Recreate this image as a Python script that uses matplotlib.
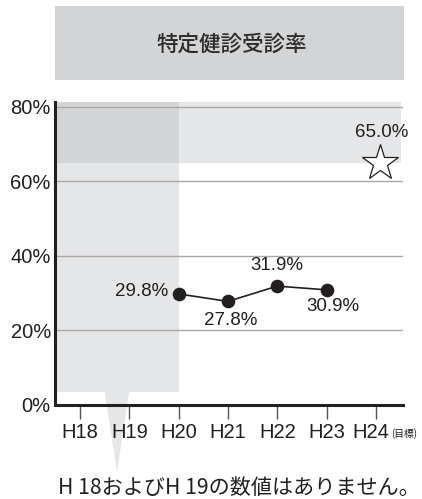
import matplotlib
matplotlib.use("Agg")
import matplotlib.pyplot as plt
import matplotlib.transforms as mtransforms
from matplotlib.patches import Rectangle, Polygon

plt.rcParams['font.family'] = ['Liberation Sans', 'Noto Sans CJK JP', 'DejaVu Sans']

# ---- data ----
years = ["H18", "H19", "H20", "H21", "H22", "H23", "H24"]
rates = [None, None, 29.8, 27.8, 31.9, 30.9]
target_year = "H24"
target_rate = 65.0
yticks = [0, 20, 40, 60, 80]
title = "特定健診受診率"
note = "H 18およびH 19の数値はありません。"

W, H = 422, 499
fig = plt.figure(figsize=(W / 100, H / 100), dpi=100)

LIGHT = "#e5e6e8"
DARK = "#d3d4d6"
INK = "#231f20"

# title box
fig.patches.append(Rectangle((55 / W, 1 - 80 / H), (404 - 55) / W, (80 - 6) / H,
                             transform=fig.transFigure, facecolor=DARK, edgecolor="none", zorder=0))
fig.text(232 / W, 1 - 45 / H, title, ha="center", va="center", fontsize=15.5,
         color="#2b2b2b", family=['Noto Sans CJK JP'], fontweight="medium")

ax = fig.add_axes([55 / W, 94 / H, 348 / W, 303 / H])
xs = list(range(len(years)))
ax.set_xlim(-0.507, 6.55)
ax.set_ylim(0, 81.3)

xl, xr = -0.507, 6.51
top = 81.3
# shaded regions
ax.add_patch(Rectangle((xl, 3.5), 2 - xl, top - 3.5, facecolor=LIGHT, edgecolor="none", zorder=0))
ax.add_patch(Rectangle((2, target_rate), xr - 2, top - target_rate, facecolor=LIGHT, edgecolor="none", zorder=0))
ax.add_patch(Rectangle((xl, target_rate), 2 - xl, top - target_rate, facecolor=DARK, edgecolor="none", zorder=0.5))
# callout pointer
ax.add_patch(Polygon([(0.50, 3.6), (0.997, 3.6), (0.75, -18.0)], closed=True,
                     facecolor=LIGHT, edgecolor="none", zorder=0, clip_on=False))

# grid
for yv in yticks[1:]:
    ax.axhline(yv, color="#a8a8a8", lw=1.0, zorder=1)

# data line
px = [x for x, v in zip(xs, rates) if v is not None]
py = [v for v in rates if v is not None]
ax.plot(px, py, color=INK, lw=1.2, zorder=3)
ax.plot(px, py, "o", color=INK, ms=8.8, zorder=4)

# target star
tx = years.index(target_year)
ax.plot([tx + 0.08], [target_rate], marker="*", ms=27, mfc="white", mec=INK, mew=0.9, zorder=4,
        clip_on=False)
ax.text(tx + 0.12, target_rate + 8.0, f"{target_rate:.1f}%", ha="center", va="center",
        fontsize=13.5, color=INK)

# value labels
offsets = {2: (-0.22, 0.6, "right"), 3: (0.06, -5.0, "center"), 4: (0.0, 5.6, "center"), 5: (0.12, -4.6, "center")}
for x, v in zip(px, py):
    dx, dy, ha = offsets[x]
    ax.text(x + dx, v + dy, f"{v:.1f}%", ha=ha, va="center", fontsize=13.5, color=INK, zorder=5)

# axes styling
for s in ["top", "right"]:
    ax.spines[s].set_visible(False)
ax.spines["left"].set_linewidth(2.2)
ax.spines["bottom"].set_linewidth(2.2)
ax.spines["left"].set_color(INK)
ax.spines["bottom"].set_color(INK)
ax.spines["left"].set_zorder(6)
ax.spines["bottom"].set_zorder(6)

ax.set_yticks(yticks)
ax.set_yticklabels([f"{t}%" for t in yticks], fontsize=14.5, color=INK)
ax.tick_params(axis="y", length=0, pad=3)
ax.set_xticks(xs)
ax.set_xticklabels(years, fontsize=14.5, color=INK)
ax.tick_params(axis="x", length=10, width=1.0, color="#555555", pad=3)
shift = mtransforms.ScaledTranslation(-5 / 100, 0, fig.dpi_scale_trans)
for lab in ax.get_xticklabels():
    if lab.get_text() == target_year:
        lab.set_transform(lab.get_transform() + shift)
ax.text(tx + 0.30, -7.6, "(目標)", ha="left", va="center", fontsize=7, color=INK,
        family=['Noto Sans CJK JP'], clip_on=False)

fig.text(239 / W, 1 - 488 / H, note, ha="center", va="center", fontsize=15.2, color=INK,
         family=['Noto Sans CJK JP'])

fig.savefig("out.png", dpi=100)
